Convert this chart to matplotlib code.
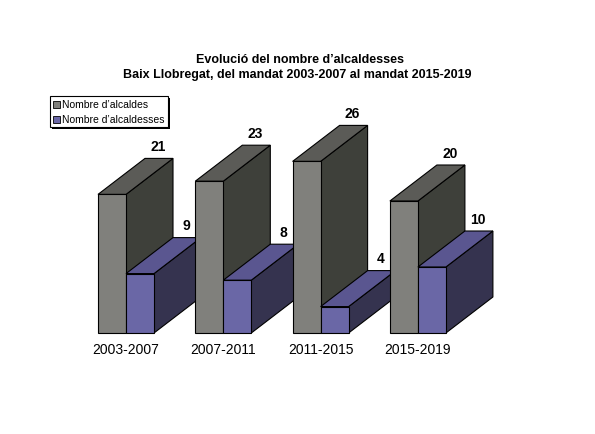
import numpy as np
import matplotlib.pyplot as plt
from matplotlib.patches import Polygon, Rectangle

plt.rcParams['font.family'] = ['Liberation Sans', 'DejaVu Sans']

periods = ['2003-2007', '2007-2011', '2011-2015', '2015-2019']
alcaldes = [21, 23, 26, 20]
alcaldesses = [9, 8, 4, 10]
series_names = ['Nombre d\u2019alcaldes', 'Nombre d\u2019alcaldesses']

# colours: front, top, side
gray = ['#80807c', '#5b5b57', '#3e403a']
purple = ['#6a67a6', '#5a5690', '#35334f']

W, H = 595, 435
base_px = 334          # pixel row of value 0
px_per_unit = 6.6
x_first = 98           # left edge of first group
group_step = 97.3
bar_w = 28
dx = 47                # depth offset (pixels)
dy = 36 / px_per_unit  # depth offset (value units)

fig = plt.figure(figsize=(W / 100, H / 100), dpi=100)
ax = fig.add_axes([0, 0, 1, 1])
ax.set_xlim(0, W)
ax.set_ylim(-(H - base_px) / px_per_unit, base_px / px_per_unit)
ax.axis('off')


def bar3d(x, v, cols):
    front = [(x, 0), (x + bar_w, 0), (x + bar_w, v), (x, v)]
    top = [(x, v), (x + bar_w, v), (x + bar_w + dx, v + dy), (x + dx, v + dy)]
    side = [(x + bar_w, 0), (x + bar_w + dx, dy), (x + bar_w + dx, v + dy), (x + bar_w, v)]
    for pts, c in zip([side, top, front], [cols[2], cols[1], cols[0]]):
        ax.add_patch(Polygon(pts, closed=True, facecolor=c, edgecolor='black', lw=0.8))
    ax.text(x + dx + bar_w / 2 - 1, v + dy + 0.8, str(v), ha='center', va='bottom',
            fontsize=10, fontweight='bold')


for i, p in enumerate(periods):
    x0 = x_first + i * group_step
    bar3d(x0, alcaldes[i], gray)
    bar3d(x0 + bar_w, alcaldesses[i], purple)
    ax.text(x0 + bar_w, -(350 - base_px) / px_per_unit, p, ha='center', va='center', fontsize=10)

# overlay in pixel coordinates for title and legend
ov = fig.add_axes([0, 0, 1, 1])
ov.set_xlim(0, W)
ov.set_ylim(H, 0)
ov.axis('off')
ov.patch.set_alpha(0)

ov.text(300, 60, 'Evoluci\u00f3 del nombre d\u2019alcaldesses', ha='center', va='center',
        fontsize=9, fontweight='bold')
ov.text(297, 75, 'Baix Llobregat, del mandat 2003-2007 al mandat 2015-2019', ha='center',
        va='center', fontsize=9, fontweight='bold')

ov.add_patch(Rectangle((52, 99), 118, 31, facecolor='black', edgecolor='none'))
ov.add_patch(Rectangle((50, 97), 118, 31, facecolor='white', edgecolor='black', lw=0.8))
for j, (name, cols) in enumerate(zip(series_names, [gray, purple])):
    yy = 105 + j * 15
    ov.add_patch(Rectangle((53, yy - 3.5), 7, 7, facecolor=cols[0], edgecolor='black', lw=0.6))
    ov.text(62, yy, name, ha='left', va='center', fontsize=7.5)

fig.savefig('out.png', dpi=100)
